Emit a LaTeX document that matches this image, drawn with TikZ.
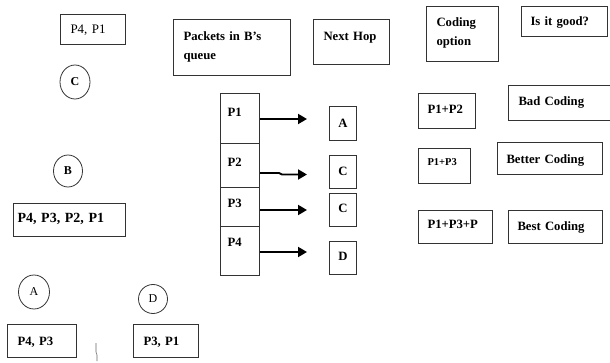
\documentclass[tikz,border=0pt]{standalone}
\usepackage{fontspec}
\setmainfont{Liberation Serif}
\usetikzlibrary{shapes.geometric,arrows.meta}
\begin{document}
\begin{tikzpicture}[x=1pt,y=-1pt,
  box/.style={draw=black!80, line width=1pt, inner sep=0pt, align=left, anchor=north west,
    font=\bfseries\fontsize{12.7}{19}\selectfont},
  hop/.style={box, text width=27pt, align=center},
  circ/.style={draw=black!80, line width=0.8pt, ellipse, inner sep=0pt, font=\bfseries\fontsize{12}{14}\selectfont},
  arr/.style={line width=1.9pt, -{Triangle[length=9pt,width=10pt]}}]
\useasboundingbox (0,0) rectangle (610,363);
\clip (0,0) rectangle (610,363);
% left side: nodes and their buffers
\node[box, font=\fontsize{13}{15}\selectfont, inner xsep=10pt, text width=45pt, text height=19pt, text depth=11pt] (bufC) at (60,14) {P4, P1};
\node[circ, minimum width=30pt, minimum height=34pt] (nC) at (75,82) {C};
\node[circ, minimum width=29pt, minimum height=32pt] (nB) at (68,171) {B};
\node[box, font=\bfseries\fontsize{14}{16}\selectfont, inner xsep=4pt, text width=104pt, text height=19pt, text depth=14pt] (bufB) at (13,203) {P4, P3, P2, P1};
\node[circ, minimum width=31pt, minimum height=34pt, font=\fontsize{12}{14}\selectfont] (nA) at (34,292) {A};
\node[circ, minimum width=29pt, minimum height=29pt, font=\fontsize{12}{14}\selectfont] (nD) at (153,299) {D};
\node[box, inner xsep=10pt, text width=49pt, text height=21pt, text depth=12pt] (bufA) at (7,324) {P4, P3};
\node[box, inner xsep=10pt, text width=45pt, text height=21pt, text depth=12pt] (bufD) at (133,324) {P3, P1};
\draw[black!60, line width=0.6pt] (96,343) -- (96,352) -- (97,355) -- (97,361);
% headers
\node[box, inner xsep=10pt, text width=97pt, text height=21pt, text depth=35pt] (hq) at (173,19) {Packets in B's\\queue};
\node[box, inner xsep=10pt, text width=56pt, text height=21pt, text depth=24pt] (hn) at (313,19) {Next Hop};
\node[box, inner xsep=10pt, text width=52pt, text height=20pt, text depth=35pt] (hc) at (426,6) {Coding\\option};
\node[box, inner xsep=9pt, text width=68pt, text height=19pt, text depth=11pt] (hg) at (521,6) {Is it good?};
% queue
\node[box, inner xsep=7pt, text width=25pt, text height=23pt, text depth=27pt] (q1) at (220,93) {P1};
\node[box, inner xsep=7pt, text width=25pt, text height=23pt, text depth=21pt] (q2) at (220,143) {P2};
\node[box, inner xsep=7pt, text width=25pt, text height=20pt, text depth=19pt] (q3) at (220,187) {P3};
\node[box, inner xsep=7pt, text width=25pt, text height=20pt, text depth=29pt] (q4) at (220,226) {P4};
% next hops
\node[hop, text height=21pt, text depth=13pt] (h1) at (329,106) {A};
\node[hop, text height=20pt, text depth=13pt] (h2) at (329,155) {C};
\node[hop, text height=19pt, text depth=14pt] (h3) at (329,193) {C};
\node[hop, text height=19pt, text depth=14pt] (h4) at (329,241) {D};
% arrows
\coordinate (y1) at (0,119);
\coordinate (y2) at (0,173);
\coordinate (y3) at (0,210);
\coordinate (y4) at (0,252);
\coordinate (t1) at (307,119);
\coordinate (k2a) at (279,173);
\coordinate (k2b) at (282,174.5);
\coordinate (t2) at (307,174.5);
\coordinate (t3) at (307,210);
\coordinate (t4) at (307,252);
\draw[arr] (q1.east |- y1) -- (t1);
\draw[arr] (q2.east |- y2) -- (k2a) -- (k2b) -- (t2);
\draw[arr] (q3.east |- y3) -- (t3);
\draw[arr] (q4.east |- y4) -- (t4);
% coding options
\node[box, inner xsep=9pt, text width=39pt, text height=20pt, text depth=15pt] (o1) at (418,93) {P1+P2};
\node[box, inner xsep=10pt, text width=84pt, text height=20pt, text depth=15pt] (g1) at (508,85) {Bad Coding};
\node[box, font=\bfseries\fontsize{10.5}{12}\selectfont, inner xsep=9pt, text width=34pt, text height=17pt, text depth=18pt] (o2) at (418,148) {P1+P3};
\node[box, inner xsep=9pt, text width=87pt, text height=21pt, text depth=11pt] (g2) at (497,142) {Better Coding};
\node[box, inner xsep=9pt, text width=56pt, text height=18pt, text depth=15pt] (o3) at (418,210) {P1+P3+P};
\node[box, inner xsep=9pt, text width=76pt, text height=20pt, text depth=13pt] (g3) at (508,210) {Best Coding};
\end{tikzpicture}
\end{document}
